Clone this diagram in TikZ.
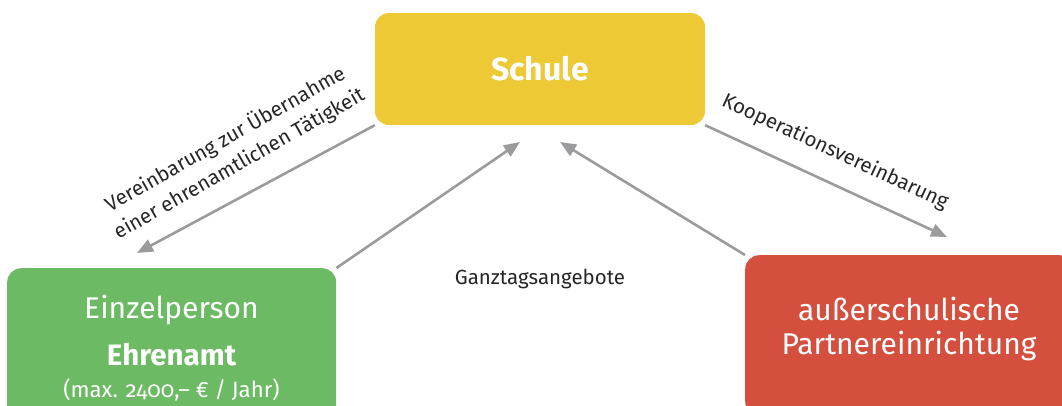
\documentclass[tikz,border=0pt]{standalone}
\usepackage{fontspec}
\setmainfont{Fira Sans}
\newfontfamily\firaold[Numbers=OldStyle]{Fira Sans}
\usepackage{tikz}
\usetikzlibrary{arrows.meta}
\definecolor{schulgelb}{HTML}{EDC936}
\definecolor{ehrengruen}{HTML}{6DBA65}
\definecolor{partnerrot}{HTML}{D44F3E}
\definecolor{pfeilgrau}{HTML}{9B9B9D}

\begin{document}
\begin{tikzpicture}[x=1pt, y=-1pt,
  box/.style={rounded corners=14pt, inner sep=0pt},
  boxtext/.style={text=white, font=\fontsize{30}{34}\selectfont},
  pfeil/.style={draw=pfeilgrau, line width=2.6pt, -{Triangle[length=16pt,width=13pt]}},
  beschriftung/.style={font=\fontsize{20.5}{28}\selectfont, text=black!85, align=center}
  ]
  \clip (0,0) rectangle (1062,405);
  % Kaesten
  \node[box, fill=schulgelb, minimum width=330pt, minimum height=112pt,
    text=white, font=\fontsize{32}{38}\selectfont\bfseries] (schule) at (540,69) {Schule};
  \node[box, fill=ehrengruen, minimum width=329pt, minimum height=180pt,
    anchor=north west] (einzel) at (7,268) {};
  \node[box, fill=partnerrot, minimum width=328pt, minimum height=160pt,
    anchor=north west] (partner) at (745,255) {};
  % Texte in den Kaesten
  \node[boxtext, anchor=base] (einzelname) at (171.5,318) {Einzelperson};
  \node[boxtext, anchor=base, font=\fontsize{29.5}{32}\selectfont\bfseries] (ehrenamt) at (171.5,365) {Ehrenamt};
  \node[boxtext, anchor=base, font=\fontsize{22.2}{25}\selectfont\firaold] (betrag) at (171.5,397) {(max. 2400,– € / Jahr)};
  \node[boxtext, align=center] (partnername) at (909,329) {außerschulische\\Partnereinrichtung};
  % Pfeilspitzen
  \coordinate (einzelziel) at (137,253);
  \coordinate (schulelinks) at (520,142);
  \coordinate (schulerechts) at (560,142);
  \coordinate (partnerziel) at (947,237);
  \draw[pfeil] (schule.south west) -- (einzelziel);
  \draw[pfeil] (einzel.north east) -- (schulelinks);
  \draw[pfeil] (partner.north west) -- (schulerechts);
  \draw[pfeil] (schule.south east) -- (partnerziel);
  % Beschriftungen
  \node[beschriftung, rotate=29.6] (vereinbarung) at (232,151)
    {Vereinbarung zur Übernahme\\einer ehrenamtlichen Tätigkeit};
  \node[beschriftung, rotate=-25] (kooperation) at (835,152) {Kooperationsvereinbarung};
  \node[beschriftung] (ganztag) at (540,279) {Ganztagsangebote};
\end{tikzpicture}
\end{document}
